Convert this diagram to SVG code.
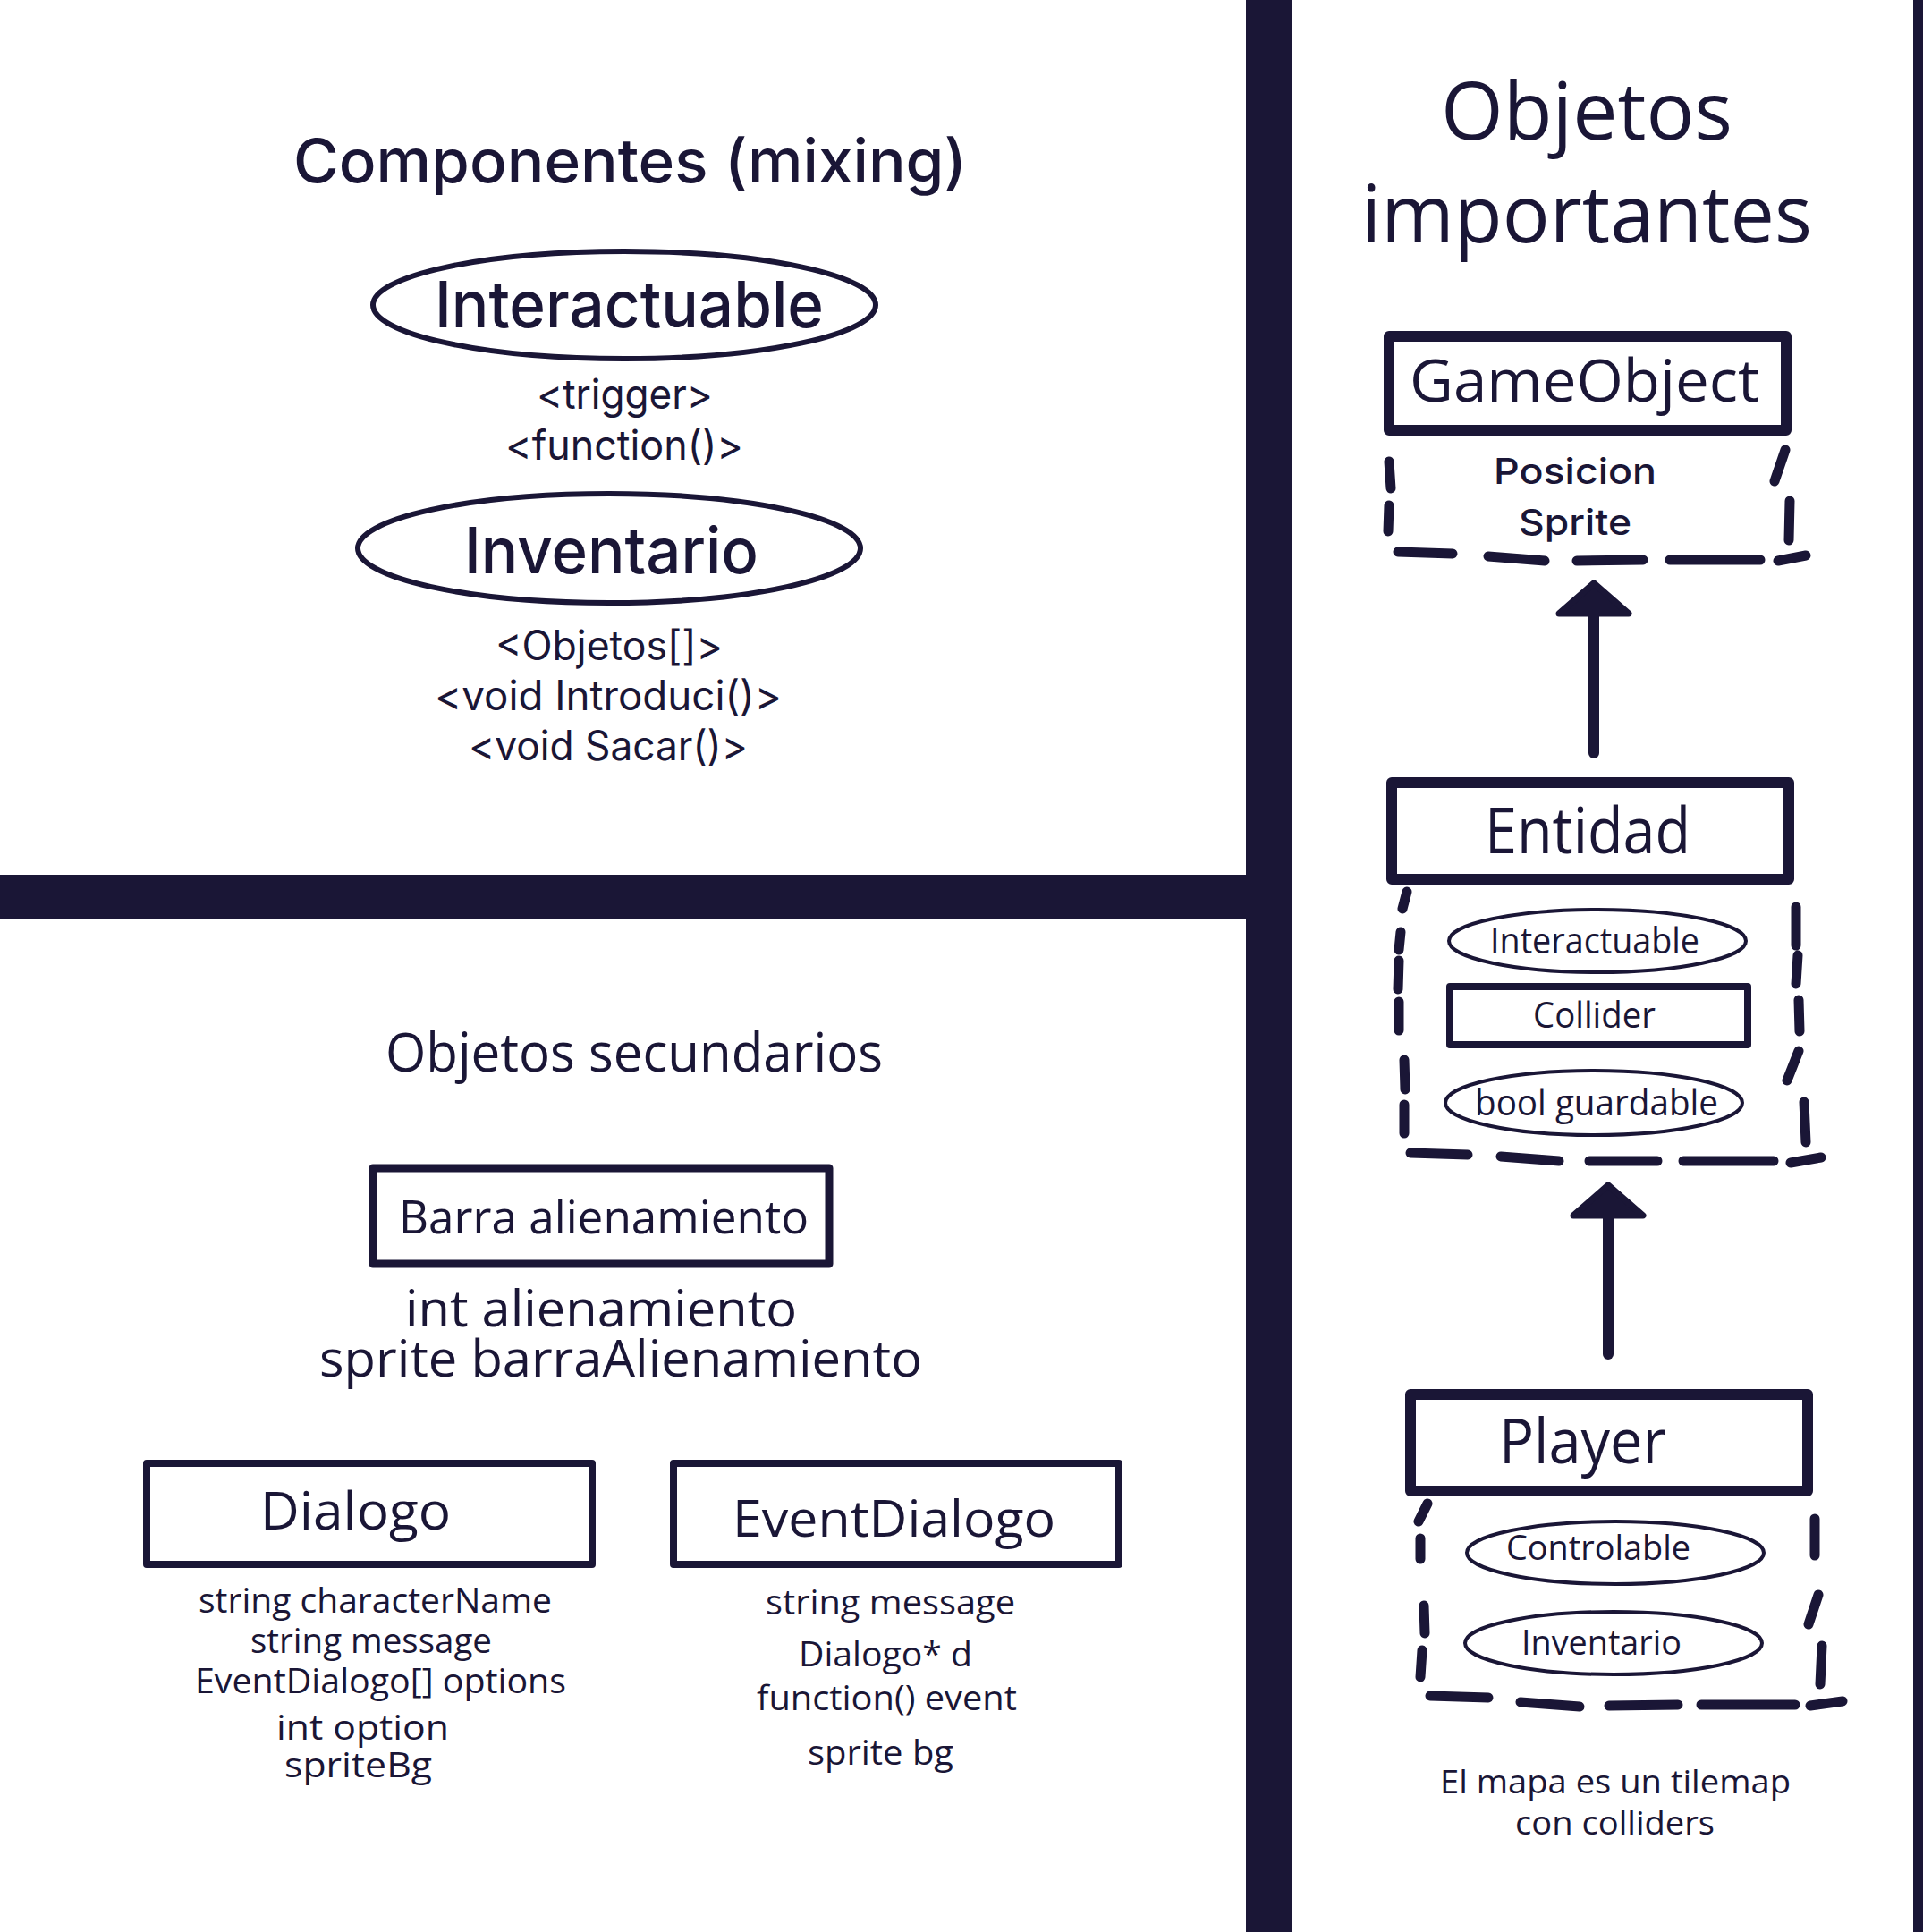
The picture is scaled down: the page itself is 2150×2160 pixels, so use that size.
<svg xmlns="http://www.w3.org/2000/svg" width="2150" height="2160" viewBox="0 0 2150 2160">
<style>
.bg{fill:#ffffff}
.bar{fill:#1a1636}
.geo{font-family:Inter,"Liberation Sans",sans-serif;fill:#1a1636}
.seg{font-family:"Open Sans","Noto Sans","Liberation Sans",sans-serif;fill:#1a1636}
.box{fill:none;stroke:#1a1636;stroke-linejoin:round}
.dash{fill:none;stroke:#1a1636;stroke-width:11;stroke-linecap:round}
.ell{fill:none;stroke:#1a1636}
.shaft{fill:none;stroke:#1a1636;stroke-width:12;stroke-linecap:round}
</style>
<defs>
<marker id="arrowhead" markerUnits="userSpaceOnUse" viewBox="-5 -50 60 100" markerWidth="60" markerHeight="100" refX="0" refY="0" orient="auto" overflow="visible">
<path d="M3,-39 L37,0 L3,39 Z" fill="#1a1636" stroke="#1a1636" stroke-width="7" stroke-linejoin="round"/>
</marker>
</defs>
<rect class="bg" x="0" y="0" width="2150" height="2160"/>

<g id="dividers">
<rect class="bar" x="1393" y="0" width="52" height="2160"/>
<rect class="bar" x="0" y="978" width="1400" height="50"/>
<rect class="bar" x="2139" y="0" width="11" height="2160"/>
</g>

<g id="componentes-title">
<text class="geo" x="328" y="204" font-size="67" font-weight="500" textLength="753" lengthAdjust="spacingAndGlyphs">Componentes (mixing)</text>
</g>

<g id="interactuable">
<ellipse class="ell" cx="698" cy="341" rx="281" ry="60" stroke-width="6"/>
<text class="geo" x="486" y="366" font-size="72" font-weight="500" textLength="435" lengthAdjust="spacingAndGlyphs">Interactuable</text>
<text class="geo" x="600" y="457" font-size="46" textLength="197" lengthAdjust="spacingAndGlyphs">&lt;trigger&gt;</text>
<text class="geo" x="565" y="514" font-size="46" textLength="266" lengthAdjust="spacingAndGlyphs">&lt;function()&gt;</text>
</g>

<g id="inventario">
<ellipse class="ell" cx="681" cy="613" rx="281" ry="61" stroke-width="6"/>
<text class="geo" x="519" y="641" font-size="71" font-weight="500" textLength="329" lengthAdjust="spacingAndGlyphs">Inventario</text>
<text class="geo" x="554" y="738" font-size="46" textLength="254" lengthAdjust="spacingAndGlyphs">&lt;Objetos[]&gt;</text>
<text class="geo" x="486" y="794" font-size="46" textLength="388" lengthAdjust="spacingAndGlyphs">&lt;void Introduci()&gt;</text>
<text class="geo" x="524" y="850" font-size="46" textLength="312" lengthAdjust="spacingAndGlyphs">&lt;void Sacar()&gt;</text>
</g>

<g id="objetos-importantes-title">
<text class="seg" x="1611" y="156" font-size="90" textLength="326" lengthAdjust="spacingAndGlyphs">Objetos</text>
<text class="seg" x="1522" y="271" font-size="90" textLength="504" lengthAdjust="spacingAndGlyphs">importantes</text>
</g>

<g id="gameobject">
<rect class="box" x="1553" y="376" width="444" height="105" stroke-width="12"/>
<text class="seg" x="1576" y="449" font-size="66" textLength="391" lengthAdjust="spacingAndGlyphs">GameObject</text>
<path class="dash" d="M1553,516 L1555,546 M1553,565 L1552,594 M1563,617 L1624,619 M1664,622 L1727,627 M1763,627 L1837,626 M1867,626 L1968,626 M1988,627 L2019,621 M1996,503 L1984,538 M2001,560 L2000,604"/>
<text class="geo" x="1670" y="541" font-size="40" font-weight="500" textLength="182" lengthAdjust="spacingAndGlyphs">Posicion</text>
<text class="geo" x="1698" y="598" font-size="40" font-weight="500" textLength="126" lengthAdjust="spacingAndGlyphs">Sprite</text>
</g>

<g id="entidad">
<rect class="box" x="1556" y="875" width="444" height="108" stroke-width="12"/>
<text class="seg" x="1660" y="954" font-size="71" textLength="230" lengthAdjust="spacingAndGlyphs">Entidad</text>
<path class="dash" d="M1573,997 L1568,1016 M1566,1042 L1564,1062 M1564,1074 L1563,1106 M1564,1120 L1564,1152 M1570,1185 L1571,1218 M1570,1235 L1570,1267 M2008,1014 L2008,1057 M2010,1068 L2008,1100 M2011,1118 L2012,1153 M2011,1175 L1998,1208 M2017,1232 L2019,1277 M1577,1289 L1641,1291 M1678,1293 L1743,1298 M1777,1298 L1853,1298 M1882,1298 L1983,1298 M2002,1300 L2036,1294"/>
<ellipse class="ell" cx="1786" cy="1052" rx="166" ry="35" stroke-width="4"/>
<text class="seg" x="1666" y="1066" font-size="40" textLength="234" lengthAdjust="spacingAndGlyphs">Interactuable</text>
<rect class="box" x="1621" y="1103" width="333" height="65" stroke-width="8"/>
<text class="seg" x="1714" y="1149" font-size="40" textLength="137" lengthAdjust="spacingAndGlyphs">Collider</text>
<ellipse class="ell" cx="1782" cy="1233" rx="166" ry="36" stroke-width="4"/>
<text class="seg" x="1649" y="1247" font-size="41" textLength="272" lengthAdjust="spacingAndGlyphs">bool guardable</text>
</g>

<g id="player">
<rect class="box" x="1577" y="1559" width="444" height="108" stroke-width="12"/>
<text class="seg" x="1676" y="1636" font-size="70" textLength="187" lengthAdjust="spacingAndGlyphs">Player</text>
<path class="dash" d="M1596,1681 L1586,1701 M1588,1720 L1588,1743 M1592,1795 L1593,1826 M1590,1845 L1588,1875 M2029,1698 L2029,1739 M2033,1783 L2022,1816 M2037,1840 L2035,1883 M1599,1896 L1664,1898 M1700,1903 L1766,1908 M1799,1907 L1876,1906 M1902,1906 L2007,1906 M2024,1907 L2060,1902"/>
<ellipse class="ell" cx="1806" cy="1736" rx="166" ry="35" stroke-width="4"/>
<text class="seg" x="1684" y="1744" font-size="39" textLength="206" lengthAdjust="spacingAndGlyphs">Controlable</text>
<ellipse class="ell" cx="1804" cy="1837" rx="166" ry="35" stroke-width="4"/>
<text class="seg" x="1701" y="1850" font-size="39" textLength="179" lengthAdjust="spacingAndGlyphs">Inventario</text>
</g>

<g id="mapa-note">
<text class="seg" x="1610" y="2005" font-size="36" textLength="392" lengthAdjust="spacingAndGlyphs">El mapa es un tilemap</text>
<text class="seg" x="1694" y="2051" font-size="36" textLength="223" lengthAdjust="spacingAndGlyphs">con colliders</text>
</g>

<g id="objetos-secundarios-title">
<text class="seg" x="431" y="1198" font-size="60" textLength="556" lengthAdjust="spacingAndGlyphs">Objetos secundarios</text>
</g>

<g id="barra-alienamiento">
<rect class="box" x="417" y="1306" width="510" height="107" stroke-width="9"/>
<text class="seg" x="446" y="1379" font-size="52" textLength="458" lengthAdjust="spacingAndGlyphs">Barra alienamiento</text>
<text class="seg" x="453" y="1483" font-size="57" textLength="438" lengthAdjust="spacingAndGlyphs">int alienamiento</text>
<text class="seg" x="357" y="1539" font-size="57" textLength="674" lengthAdjust="spacingAndGlyphs">sprite barraAlienamiento</text>
</g>

<g id="dialogo">
<rect class="box" x="164" y="1636" width="498" height="113" stroke-width="8"/>
<text class="seg" x="291" y="1710" font-size="59" textLength="213" lengthAdjust="spacingAndGlyphs">Dialogo</text>
<text class="seg" x="222" y="1803" font-size="38" textLength="395" lengthAdjust="spacingAndGlyphs">string characterName</text>
<text class="seg" x="280" y="1848" font-size="38" textLength="270" lengthAdjust="spacingAndGlyphs">string message</text>
<text class="seg" x="218" y="1893" font-size="38" textLength="415" lengthAdjust="spacingAndGlyphs">EventDialogo[] options</text>
<text class="seg" x="309" y="1945" font-size="38" textLength="193" lengthAdjust="spacingAndGlyphs">int option</text>
<text class="seg" x="318" y="1987" font-size="38" textLength="165" lengthAdjust="spacingAndGlyphs">spriteBg</text>
</g>

<g id="eventdialogo">
<rect class="box" x="753" y="1636" width="498" height="113" stroke-width="8"/>
<text class="seg" x="819" y="1718" font-size="57" textLength="361" lengthAdjust="spacingAndGlyphs">EventDialogo</text>
<text class="seg" x="856" y="1805" font-size="38" textLength="279" lengthAdjust="spacingAndGlyphs">string message</text>
<text class="seg" x="893" y="1863" font-size="38" textLength="194" lengthAdjust="spacingAndGlyphs">Dialogo* d</text>
<text class="seg" x="846" y="1912" font-size="38" textLength="291" lengthAdjust="spacingAndGlyphs">function() event</text>
<text class="seg" x="903" y="1973" font-size="38" textLength="163" lengthAdjust="spacingAndGlyphs">sprite bg</text>
</g>

<g id="connectors">
<line class="shaft" x1="1782" y1="842" x2="1782" y2="689" marker-end="url(#arrowhead)"/>
<line class="shaft" x1="1798" y1="1514" x2="1798" y2="1362" marker-end="url(#arrowhead)"/>
</g>
</svg>
